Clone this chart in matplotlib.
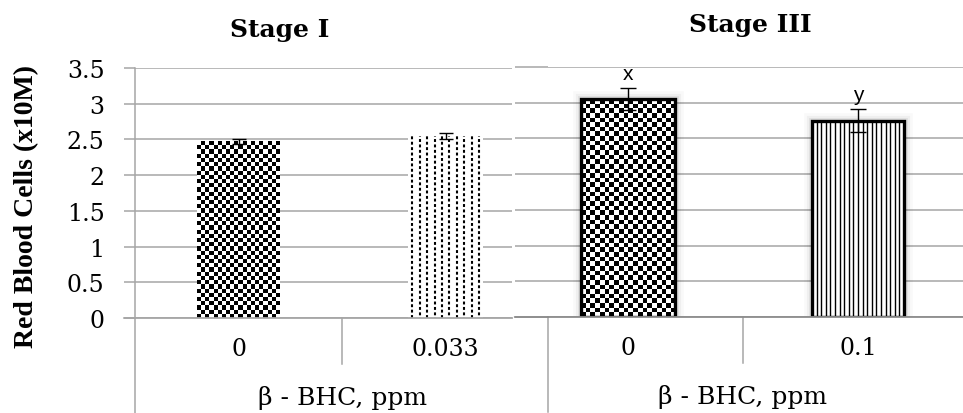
import numpy as np
import matplotlib
matplotlib.use("Agg")
import matplotlib.pyplot as plt
import matplotlib.patheffects as pe
from matplotlib.transforms import blended_transform_factory

# values
doses_stage1 = ["0", "0.033"]
rbc_stage1 = [2.47, 2.55]
err_stage1 = [0.03, 0.04]

doses_stage3 = ["0", "0.1"]
rbc_stage3 = [3.05, 2.75]
err_stage3 = [0.15, 0.16]
letters_stage3 = ["x", "y"]

y_ticks = [0, 0.5, 1, 1.5, 2, 2.5, 3, 3.5]
y_tick_labels = ["0", "0.5", "1", "1.5", "2", "2.5", "3", "3.5"]
x_title = "\u03b2 - BHC, ppm"
y_title = "Red Blood Cells (x10M)"

W, H = 963, 414
GRID = "#a6a6a6"
SERIF = ["DejaVu Serif"]


def fig_box(x0, y_top, x1, y_bot):
    return [x0 / W, (H - y_bot) / H, (x1 - x0) / W, (y_bot - y_top) / H]


def px_per_unit(ax):
    p0 = ax.transData.transform((0, 0))
    p1 = ax.transData.transform((1, 1))
    return abs(p1[0] - p0[0]), abs(p1[1] - p0[1])


def checker_fill(ax, bar, cell_px=4.2):
    x0, y0 = bar.get_x(), bar.get_y()
    w, h = bar.get_width(), bar.get_height()
    sx, sy = px_per_unit(ax)
    nx = max(1, int(round(w * sx / cell_px)))
    ny = max(1, int(round(h * sy / cell_px)))
    board = (np.add.outer(np.arange(ny), np.arange(nx)) % 2).astype(float)
    ax.imshow(board, cmap="gray", extent=(x0, x0 + w, y0, y0 + h),
              aspect="auto", interpolation="nearest", zorder=2,
              clip_path=bar, origin="lower")


def stripe_fill(ax, bar, step_px, lw, dashed=False):
    x0, y0 = bar.get_x(), bar.get_y()
    w, h = bar.get_width(), bar.get_height()
    sx, _ = px_per_unit(ax)
    n = int(w * sx / step_px)
    pad = (w * sx - (n - 1) * step_px) / 2
    xs = x0 + (pad + np.arange(n) * step_px) / sx
    for i, xv in enumerate(xs):
        if dashed:
            ls = (1.3 * (i % 2), (1.4, 1.2))
        else:
            ls = "-"
        ax.plot([xv, xv], [y0, y0 + h], color="black", lw=lw, ls=ls,
                zorder=2, solid_capstyle="butt")


def setup_axes(ax, xlim, tick_len, show_labels):
    ax.set_xlim(*xlim)
    ax.set_ylim(0, 3.5)
    ax.set_yticks(y_ticks)
    ax.grid(True, axis="y", color=GRID, lw=1.1)
    ax.set_axisbelow(True)
    for s in ["top", "right", "left", "bottom"]:
        ax.spines[s].set_visible(False)
    ax.set_xticks([])
    ax.tick_params(axis="y", length=tick_len, width=1.1, color=GRID,
                   direction="out", pad=14)
    if show_labels:
        ax.set_yticklabels(y_tick_labels, fontsize=17, family=SERIF)
    else:
        ax.set_yticklabels([])


def category_table(ax, labels, left_line, top, zero_color, zero_ext_pt):
    trans = blended_transform_factory(ax.transData, ax.transAxes)
    lo, hi = ax.get_xlim()
    # zero line, carried left over the tick marks
    ax.plot([lo, hi], [0, 0], transform=trans, color=zero_color, lw=1.3,
            clip_on=False, zorder=4)
    ax.annotate("", xy=(lo, 0), xycoords=trans, xytext=(-zero_ext_pt, 0),
                textcoords="offset points",
                arrowprops=dict(arrowstyle="-", color=zero_color, lw=1.3,
                                shrinkA=0, shrinkB=0))
    ax.plot([0.5, 0.5], [0, -0.185], transform=trans, color=GRID, lw=1.1,
            clip_on=False)
    ax.plot([left_line, left_line], [top, -0.38], transform=trans,
            color=GRID, lw=1.1, clip_on=False)
    for i, lab in enumerate(labels):
        ax.text(i, -0.124, lab, transform=trans, ha="center", va="center",
                fontsize=17, family=SERIF)
    ax.text(0.5, -0.315, x_title, transform=trans, ha="center", va="center",
            fontsize=18, family=SERIF)


fig = plt.figure(figsize=(W / 100, H / 100), dpi=100)

# ---- Stage I ----
ax1 = fig.add_axes(fig_box(135, 69, 512, 319))
setup_axes(ax1, (-0.5, 1.32), 8, True)
bars1 = ax1.bar([0, 1], rbc_stage1, width=[0.40, 0.36], color="white",
                edgecolor="none", zorder=1.5)
checker_fill(ax1, bars1[0])
stripe_fill(ax1, bars1[1], 7.4, 1.5, dashed=True)
ax1.errorbar([0, 1], rbc_stage1, yerr=err_stage1, fmt="none", ecolor="black",
             elinewidth=1, capsize=5, capthick=1, zorder=5)
category_table(ax1, doses_stage1, -0.5, 1.0, GRID, 8)

# ---- Stage III ----
ax2 = fig.add_axes(fig_box(548, 68, 963, 318))
setup_axes(ax2, (-0.348, 1.457), 24, False)
shadow = [pe.Stroke(linewidth=12, foreground="black", alpha=0.025),
          pe.Stroke(linewidth=8, foreground="black", alpha=0.04),
          pe.Stroke(linewidth=5, foreground="black", alpha=0.06),
          pe.Normal()]
under = ax2.bar([0, 1], rbc_stage3, width=[0.41, 0.40], color="white",
                edgecolor="none", zorder=1.5)
for b in under:
    b.set_path_effects(shadow)
checker_fill(ax2, under[0], cell_px=4.6)
stripe_fill(ax2, under[1], 4.6, 1.0)
ax2.bar([0, 1], rbc_stage3, width=[0.41, 0.40], color="none",
        edgecolor="black", linewidth=2.4, zorder=3)
ax2.errorbar([0, 1], rbc_stage3, yerr=err_stage3, fmt="none", ecolor="black",
             elinewidth=1, capsize=6, capthick=1, zorder=5)
for i, letter in enumerate(letters_stage3):
    ax2.text(i, rbc_stage3[i] + err_stage3[i] + 0.13, letter, ha="center",
             va="baseline", fontsize=15, family=["Liberation Sans"])
category_table(ax2, doses_stage3, -0.348, 0.0, "#8c8c8c", 24)

# titles and shared y label
fig.text(280 / W, 1 - 30 / H, "Stage I", ha="center", va="center",
         fontsize=18, fontweight="bold", family=SERIF)
fig.text(750 / W, 1 - 25 / H, "Stage III", ha="center", va="center",
         fontsize=18, fontweight="bold", family=SERIF)
fig.text(27 / W, 1 - 207 / H, y_title, rotation=90, ha="center",
         va="center", fontsize=20, fontweight="bold",
         family=["Liberation Serif"])

fig.savefig("out.png", dpi=100)
